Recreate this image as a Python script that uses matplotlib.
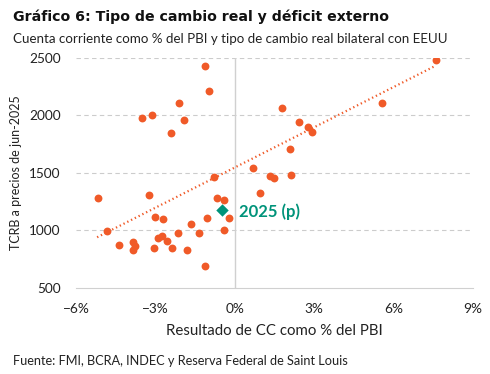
import numpy as np
import matplotlib.pyplot as plt
from matplotlib.ticker import FuncFormatter

# Resultado de cuenta corriente (% del PBI) y TCRB (precios de jun-2025)
cc = [-1.12, -0.97, -2.09, -3.50, -3.12, -1.92, -2.41, 0.69, -0.78, -5.16,
      -3.24, -0.67, -0.39, 0.96, -3.01, -2.71, -1.05, -0.22, -1.65, -4.81,
      -2.14, -1.35, -0.39, -2.90, -2.75, -2.56, -4.37, -3.84, -3.77, -3.84,
      -3.05, -2.37, -1.80, -1.12, 7.60, 5.56, 1.79, 2.43, 2.77, 2.92,
      2.09, 1.33, 1.48, 2.13]
tcrb = [2428, 2216, 2106, 1976, 2002, 1958, 1845, 1541, 1468, 1280,
        1306, 1280, 1263, 1323, 1117, 1097, 1106, 1106, 1054, 993,
        976, 976, 1002, 932, 950, 906, 871, 897, 863, 828,
        845, 845, 828, 689, 2480, 2106, 2063, 1941, 1897, 1854,
        1706, 1471, 1454, 1480]
# 2025 proyectado
cc_2025 = -0.48
tcrb_2025 = 1178
label_2025 = '2025 (p)'

# linea de tendencia (extremos)
trend_x = [-5.20, 7.52]
trend_y = [941, 2424]

xticks = [-6, -3, 0, 3, 6, 9]
yticks = [500, 1000, 1500, 2000, 2500]

orange = '#F05A28'
teal = '#00937A'
plt.rcParams['font.family'] = ['Lato', 'DejaVu Sans']

fig = plt.figure(figsize=(4.9, 3.74), dpi=100)
ax = fig.add_axes([0.155, 0.230, 0.810, 0.615])

# grilla
for v in yticks[1:]:
    ax.axhline(v, color='#CCCCCC', lw=0.8, ls=(0, (4, 3)), zorder=0)
ax.axvline(0, color='#D0D0D0', lw=1, zorder=0)

ax.scatter(cc, tcrb, s=32, color=orange, zorder=3, linewidths=0)
ax.plot(trend_x, trend_y, color=orange, lw=1.6, ls=(0, (0.6, 1.3)), zorder=2)

ax.scatter([cc_2025], [tcrb_2025], marker='D', s=40, color=teal, zorder=4, linewidths=0)
ax.annotate(label_2025, (cc_2025, tcrb_2025), xytext=(12, -1), textcoords='offset points',
            color=teal, fontsize=12, fontweight='bold', va='center', ha='left')

ax.set_xlim(-6, 9)
ax.set_ylim(500, 2500)
ax.set_xticks(xticks)
ax.set_yticks(yticks)
ax.xaxis.set_major_formatter(FuncFormatter(lambda v, p: '{:d}%'.format(int(v)).replace('-', '\u2212')))
ax.tick_params(length=0, labelsize=9.8, colors='#222222')
ax.tick_params(axis='x', pad=11)
ax.tick_params(axis='y', pad=11)
for s in ['top', 'right', 'left']:
    ax.spines[s].set_visible(False)
ax.spines['bottom'].set_color('#D0D0D0')

ax.set_xlabel('Resultado de CC como % del PBI', fontsize=10.8, color='#222222', labelpad=6)
ax.set_ylabel('TCRB a precios de jun-2025', fontsize=9.0, color='#222222', labelpad=5)

fig.text(0.027, 0.955, 'Gráfico 6: Tipo de cambio real y déficit externo', fontsize=10.2,
         fontweight='bold', color='#111111', va='center', family='DejaVu Sans')
fig.text(0.027, 0.895, 'Cuenta corriente como % del PBI y tipo de cambio real bilateral con EEUU',
         fontsize=9.6, color='#222222', va='center')
fig.text(0.027, 0.035, 'Fuente: FMI, BCRA, INDEC y Reserva Federal de Saint Louis',
         fontsize=9.2, color='#222222', va='center')

fig.savefig('out.png', dpi=100)
